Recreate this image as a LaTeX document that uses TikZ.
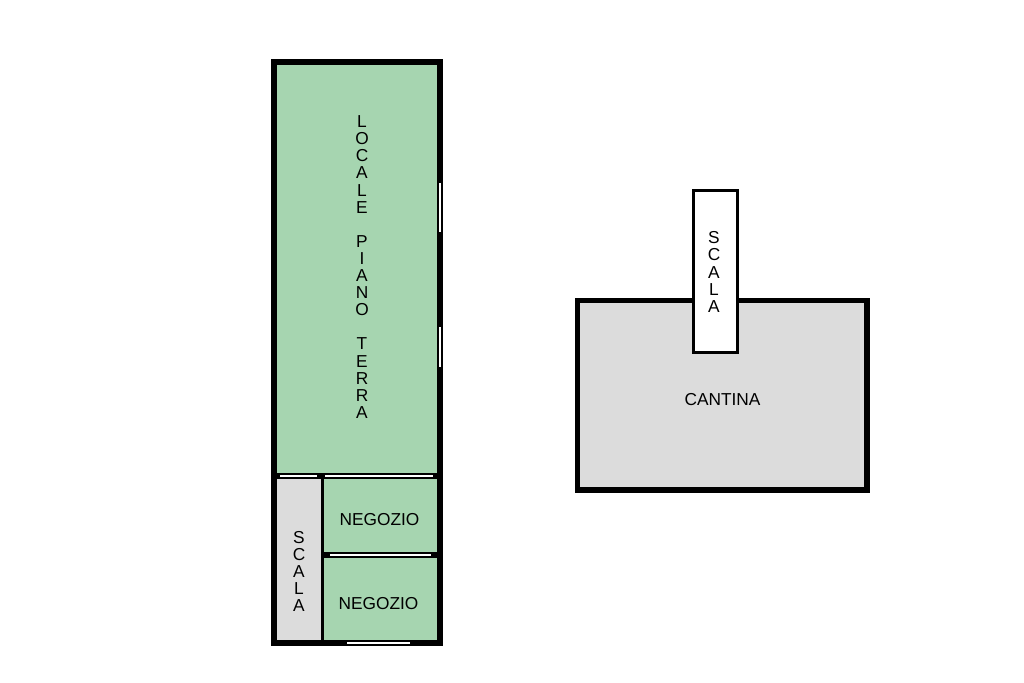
\documentclass[tikz,border=0pt]{standalone}
\usepackage{fontspec}
\setmainfont{Liberation Sans}
\definecolor{roomgreen}{HTML}{A6D5B0}
\definecolor{roomgrey}{HTML}{DCDCDC}
\begin{document}
\begin{tikzpicture}[x=1pt, y=-1pt,
	wall/.style={fill=black},
	shop/.style={fill=roomgreen},
	store/.style={fill=roomgrey},
	slit/.style={fill=white},
	label/.style={font=\fontsize{17.3}{17.1}\selectfont, inner sep=0pt, align=center}]
	\useasboundingbox (0,0) rectangle (1024,682);

	% ground floor
	\fill[wall] (271,59) rectangle (443,646);
	\fill[shop] (277,65) rectangle (437,473);
	\fill[store] (277,479) rectangle (321,640);
	\fill[shop] (324,479) rectangle (437,552);
	\fill[shop] (324,558) rectangle (437,640);

	% openings
	\fill[slit] (439,183) rectangle (441,232);
	\fill[slit] (439,327) rectangle (441,367);
	\fill[slit] (280,474.8) rectangle (317,476.6);
	\fill[slit] (325,474.8) rectangle (433,476.6);
	\fill[slit] (330,554) rectangle (431,556);
	\fill[slit] (347,642) rectangle (410,644);

	% cellar
	\fill[wall] (574.5,297.5) rectangle (869.5,492.5);
	\fill[store] (580,302.5) rectangle (864,487);
	\fill[slit, draw=black, line width=3pt] (693,190) rectangle (737,352);

	\node[label] (locale) at (362,267) {L\\O\\C\\A\\L\\E\\~\\P\\I\\A\\N\\O\\~\\T\\E\\R\\R\\A};
	\node[label] (scalaground) at (299,571.5) {S\\C\\A\\L\\A};
	\node[label] (negozioup) at (379.5,520) {NEGOZIO};
	\node[label] (negoziodown) at (378.5,604) {NEGOZIO};
	\node[label] (scalacellar) at (714,272) {S\\C\\A\\L\\A};
	\node[label] (cantina) at (722.5,400) {CANTINA};
\end{tikzpicture}
\end{document}
